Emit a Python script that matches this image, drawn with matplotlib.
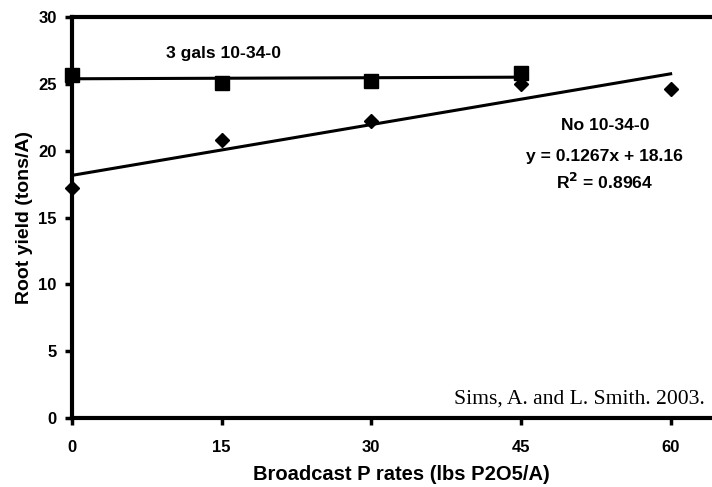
import matplotlib.pyplot as plt
import numpy as np

# P rates and root yields
rates = [0, 15, 30, 45, 60]
with_starter = [25.7, 25.1, 25.2, 25.8]      # 3 gals 10-34-0 (0..45)
no_starter = [17.2, 20.8, 22.2, 25.0, 24.6]  # No 10-34-0
slope, intercept = 0.1267, 18.16
yticks = [0, 5, 10, 15, 20, 25, 30]

plt.rcParams['font.family'] = 'Liberation Sans'
plt.rcParams['font.weight'] = 'bold'

fig = plt.figure(figsize=(7.12, 4.87), dpi=100)
ax = fig.add_axes([0.101, 0.1417, 0.925, 0.823])

# trend for starter treatment
x1 = np.array(rates[:4])
p = np.polyfit(x1, with_starter, 1)
ax.plot([0, 45], np.polyval(p, [0, 45]), color='black', lw=2.2, zorder=2)
ax.plot(x1, with_starter, 's', color='black', ms=9.5, zorder=3, clip_on=False)

# trend for no starter
x2 = np.array(rates)
ax.plot([0, 60], [intercept, slope * 60 + intercept], color='black', lw=2.2, zorder=2)
ax.plot(x2, no_starter, 'D', color='black', ms=7, zorder=3, clip_on=False)

ax.set_xlim(0, 66)
ax.set_ylim(0, 30)
ax.set_xticks(rates)
ax.set_yticks(yticks)
ax.tick_params(axis='both', direction='out', width=2.5, length=5, labelsize=12)
ax.tick_params(axis='x', pad=11)
ax.tick_params(axis='y', pad=6)
for s in ['left', 'bottom', 'top']:
    ax.spines[s].set_linewidth(3)
ax.spines['right'].set_visible(False)

ax.set_xlabel('Broadcast P rates (lbs P2O5/A)', fontsize=14.5, fontweight='bold', labelpad=7)
ax.set_ylabel('Root yield (tons/A)', fontsize=14, fontweight='bold', labelpad=4)

ax.text(15.2, 27.3, '3 gals 10-34-0', fontsize=12.6, fontweight='bold', ha='center', va='center')
ax.text(53.4, 21.9, 'No 10-34-0', fontsize=12.6, fontweight='bold', ha='center', va='center')
ax.text(53.4, 19.6, 'y = 0.1267x + 18.16', fontsize=12.6, fontweight='bold', ha='center', va='center')
ax.text(53.4, 17.7, 'R$^{2}$ = 0.8964', fontsize=12.6, fontweight='bold', ha='center', va='center')
ax.text(63.4, 1.4, 'Sims, A. and L. Smith. 2003.', fontsize=15.6, fontweight='normal',
        family='Liberation Serif', ha='right', va='center')

fig.savefig('out.png', dpi=100)
